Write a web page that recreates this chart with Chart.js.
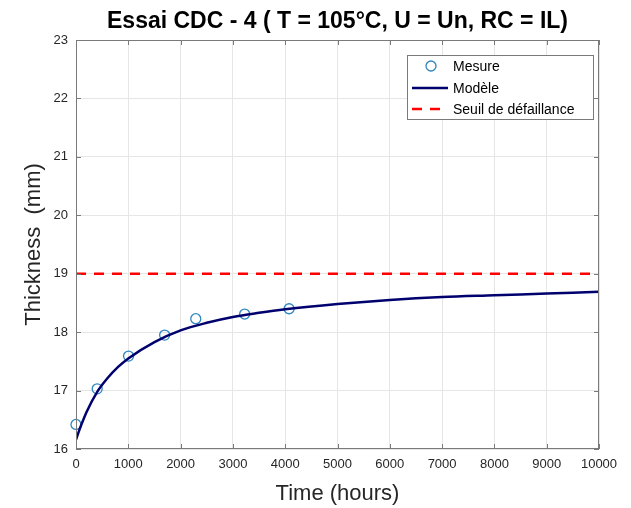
<!DOCTYPE html>
<html>
<head>
<meta charset="utf-8">
<title>Essai CDC - 4</title>
<script src="https://cdn.jsdelivr.net/npm/chart.js@4.4.1/dist/chart.umd.min.js"></script>
<style>
  html, body { margin: 0; padding: 0; background: #ffffff; }
  #chart { display: block; }
</style>
</head>
<body>
<canvas id="chart" width="631" height="508"></canvas>
<script>
// measured points (hours, mm)
const measureTimes = [0, 405, 1005, 1695, 2290, 3225, 4075];
const measureValues = [16.42, 17.03, 17.59, 17.95, 18.23, 18.31, 18.40];

// model curve
const modelTimes = [0, 50, 100, 200, 400, 600, 800, 1000, 1500, 2000, 2500, 3000, 3500, 4000, 5000, 6000, 7000, 8000, 9000, 10000];
const modelValues = [16.16, 16.29, 16.41, 16.63, 16.97, 17.21, 17.40, 17.55, 17.83, 18.03, 18.16, 18.26, 18.33, 18.39, 18.48, 18.55, 18.60, 18.63, 18.66, 18.69];

// failure threshold
const thresholdTimes = [0, 10000];
const thresholdValues = [19, 19];

const seriesLabels = ['Mesure', 'Modèle', 'Seuil de défaillance'];

const xTicks = [0, 1000, 2000, 3000, 4000, 5000, 6000, 7000, 8000, 9000, 10000];
const yTicks = [16, 17, 18, 19, 20, 21, 22, 23];

const FONT = "Arial, 'Liberation Sans', Helvetica, sans-serif";
const axisColor = '#7a7a7a';
const textColor = '#262626';

const toPoints = (xs, ys) => xs.map((t, i) => ({x: t, y: ys[i]}));

// box round the axes, inward tick marks and the legend, drawn like matlab does
const frameAndLegend = {
  id: 'frameAndLegend',
  afterDraw(chart) {
    const {ctx, chartArea: a, scales: {x, y}} = chart;
    ctx.save();
    ctx.strokeStyle = axisColor;
    ctx.lineWidth = 1;
    ctx.setLineDash([]);
    ctx.strokeRect(a.left + 0.5, a.top + 0.5, a.width - 1, a.height - 1);

    const tl = 5;
    ctx.beginPath();
    x.ticks.forEach(t => {
      const px = Math.round(x.getPixelForValue(t.value)) + 0.5;
      ctx.moveTo(px, a.bottom); ctx.lineTo(px, a.bottom - tl);
      ctx.moveTo(px, a.top); ctx.lineTo(px, a.top + tl);
    });
    y.ticks.forEach(t => {
      const py = Math.round(y.getPixelForValue(t.value)) + 0.5;
      ctx.moveTo(a.left, py); ctx.lineTo(a.left + tl, py);
      ctx.moveTo(a.right, py); ctx.lineTo(a.right - tl, py);
    });
    ctx.stroke();

    // legend box, top right inside the axes
    const bw = 186, bh = 64;
    const bx = a.right - 6 - bw, by = a.top + 15;
    ctx.fillStyle = '#ffffff';
    ctx.fillRect(bx, by, bw, bh);
    ctx.strokeStyle = axisColor;
    ctx.strokeRect(bx + 0.5, by + 0.5, bw, bh);

    const rows = [by + 11, by + 33, by + 54];
    const ds = chart.data.datasets;
    ctx.font = '14px ' + FONT;
    ctx.textBaseline = 'middle';
    ctx.textAlign = 'left';
    ds.forEach((d, i) => {
      const ry = rows[i];
      ctx.strokeStyle = d.borderColor;
      ctx.lineWidth = d.borderWidth;
      if (d.showLine === false) {
        ctx.setLineDash([]);
        ctx.beginPath();
        ctx.arc(bx + 24, ry, d.pointRadius, 0, Math.PI * 2);
        ctx.stroke();
      } else {
        ctx.setLineDash(d.borderDash || []);
        ctx.beginPath();
        ctx.moveTo(bx + 5, ry);
        ctx.lineTo(bx + 41, ry);
        ctx.stroke();
      }
      ctx.fillStyle = '#000000';
      ctx.fillText(d.label, bx + 46, ry + 1);
    });
    ctx.restore();
  }
};

new Chart(document.getElementById('chart'), {
  type: 'line',
  data: {
    datasets: [
      {
        label: seriesLabels[0],
        data: toPoints(measureTimes, measureValues),
        showLine: false,
        clip: false,
        pointStyle: 'circle',
        pointRadius: 5,
        pointBorderWidth: 1.3,
        borderWidth: 1.3,
        borderColor: '#2f86c0',
        pointBorderColor: '#2f86c0',
        backgroundColor: 'rgba(0,0,0,0)',
        pointBackgroundColor: 'rgba(0,0,0,0)',
        order: 3
      },
      {
        label: seriesLabels[1],
        data: toPoints(modelTimes, modelValues),
        borderColor: '#00006e',
        borderWidth: 2.5,
        pointRadius: 0,
        cubicInterpolationMode: 'monotone',
        fill: false,
        order: 2
      },
      {
        label: seriesLabels[2],
        data: toPoints(thresholdTimes, thresholdValues),
        borderColor: '#ff0000',
        borderWidth: 2.5,
        borderDash: [10, 8],
        pointRadius: 0,
        fill: false,
        order: 1
      }
    ]
  },
  options: {
    responsive: false,
    animation: false,
    layout: { padding: { left: 0, right: 32, top: 0, bottom: 0 } },
    plugins: {
      legend: { display: false },
      tooltip: { enabled: false },
      title: {
        display: true,
        fullSize: false,
        text: 'Essai CDC - 4 ( T = 105°C, U = Un, RC = IL)',
        color: '#000000',
        font: { family: FONT, size: 23, weight: 'bold', lineHeight: 1.2 },
        padding: { top: 8, bottom: 4.4 }
      }
    },
    scales: {
      x: {
        type: 'linear',
        min: 0,
        max: 10000,
        afterFit(scale) { scale.height = 59; },
        afterBuildTicks(scale) { scale.ticks = xTicks.map(v => ({value: v})); },
        ticks: {
          color: textColor,
          font: { family: FONT, size: 13 },
          padding: 8,
          maxRotation: 0,
          autoSkip: false,
          callback: v => String(v)
        },
        grid: { color: '#e6e6e6', lineWidth: 1, drawTicks: false },
        border: { display: false },
        title: {
          display: true,
          text: 'Time (hours)',
          color: textColor,
          font: { family: FONT, size: 22, lineHeight: 1.2 },
          padding: { top: 0, bottom: 1 }
        }
      },
      y: {
        type: 'linear',
        min: 16,
        max: 23,
        afterFit(scale) { scale.width = 76; },
        afterBuildTicks(scale) { scale.ticks = yTicks.map(v => ({value: v})); },
        ticks: {
          color: textColor,
          font: { family: FONT, size: 13 },
          padding: 8,
          autoSkip: false,
          callback: v => String(v)
        },
        grid: { color: '#e6e6e6', lineWidth: 1, drawTicks: false },
        border: { display: false },
        title: {
          display: true,
          text: 'Thickness  (mm)',
          color: textColor,
          font: { family: FONT, size: 22, lineHeight: 1.2 },
          padding: { top: 21, bottom: 0 }
        }
      }
    }
  },
  plugins: [frameAndLegend]
});
</script>
</body>
</html>
